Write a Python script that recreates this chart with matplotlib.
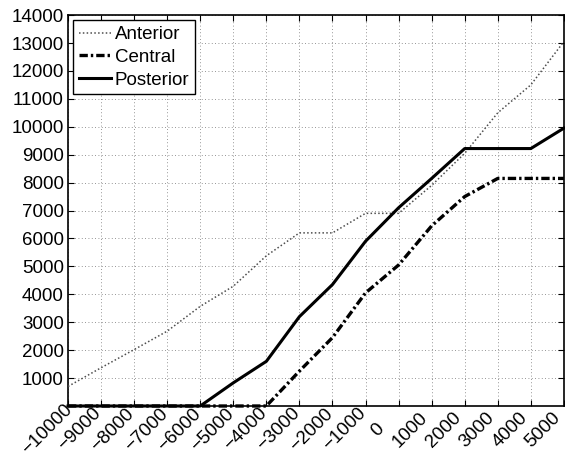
import matplotlib
matplotlib.use("Agg")
import matplotlib.pyplot as plt
from matplotlib.transforms import ScaledTranslation
import numpy as np

# offsets along the axis
offsets = [-10000, -9000, -8000, -7000, -6000, -5000, -4000, -3000,
           -2000, -1000, 0, 1000, 2000, 3000, 4000, 5000]

anterior = [700, 1370, 2020, 2680, 3570, 4290, 5380, 6200,
            6200, 6900, 6900, 7900, 9050, 10500, 11500, 13050]
central = [0, 0, 0, 0, 0, 0, 0, 1250,
           2450, 4050, 5050, 6450, 7500, 8150, 8150, 8150]
posterior = [0, 0, 0, 0, 0, 830, 1600, 3200,
             4350, 5900, 7100, 8150, 9220, 9220, 9220, 9950]

yticks = list(range(1000, 14001, 1000))

plt.rcParams.update({
    "font.family": ["Liberation Sans", "DejaVu Sans"],
    "font.size": 13.5,
})

fig = plt.figure(figsize=(5.65, 4.57), dpi=100)
ax = fig.add_axes([0.1204, 0.1116, 0.8776, 0.8554])

ax.plot(offsets, anterior, color='0.3', linewidth=1.1,
        linestyle=(0, (1, 1.5)), label='Anterior', clip_on=False, zorder=3)
ax.plot(offsets, central, color='black', linewidth=2.4,
        linestyle=(0, (2.5, 0.9, 0.72, 0.9)), label='Central', clip_on=False, zorder=4)
ax.plot(offsets, posterior, color='black', linewidth=2.2,
        linestyle='-', label='Posterior', clip_on=False, zorder=5)

ax.set_xlim(-10000, 5000)
ax.set_ylim(0, 14000)
ax.set_xticks(offsets)
xlabels = [str(v).replace('-', '\u2212') for v in offsets]
ax.set_xticklabels(xlabels, rotation=45, ha='center', va='center',
                   rotation_mode='anchor')
ax.set_yticks(yticks)

ax.tick_params(direction='in', top=True, right=True, length=4, width=0.8,
               labelsize=13.5)
ax.tick_params(axis='x', pad=17)
ax.tick_params(axis='y', pad=3)

# rotated labels are centred a bit left of their ticks
shift = ScaledTranslation(-0.21, 0, fig.dpi_scale_trans)
for lbl in ax.get_xticklabels():
    lbl.set_transform(lbl.get_transform() + shift)

ax.grid(True, linestyle=(0, (1, 3)), color='0.45', linewidth=0.6)
ax.set_axisbelow(True)
for s in ax.spines.values():
    s.set_linewidth(1.2)

leg = ax.legend(loc='upper left', fontsize=13.5, handlelength=1.7,
                handletextpad=0.2, borderpad=0.3, labelspacing=0.3,
                borderaxespad=0.28, fancybox=False, framealpha=1)
leg.get_frame().set_edgecolor('black')
leg.get_frame().set_linewidth(1.0)

fig.savefig("out.png", dpi=100)
